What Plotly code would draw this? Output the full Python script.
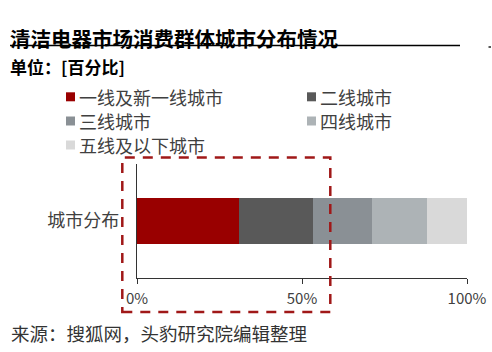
import plotly.graph_objects as go

# ---- data ----
categories = ["城市分布"]
series_names = ["一线及新一线城市", "二线城市", "三线城市", "四线城市", "五线及以下城市"]
series_values = [31.0, 22.4, 17.9, 16.7, 12.0]
series_colors = ["#990000", "#595959", "#8A9095", "#ADB3B6", "#D9D9D9"]
tick_values = [0, 50, 100]
tick_labels = ["0%", "50%", "100%"]
title_text = "清洁电器市场消费群体城市分布情况"
unit_text = "单位：[百分比]"
source_text = "来源：搜狐网，头豹研究院编辑整理"

W, H = 492, 352
L, R, T, B = 137, 25, 164, 74
PW, PH = W - L - R, H - T - B
FONT = "Noto Sans CJK SC"


def px(xp):
    return (xp - L) / PW


def py(yp):
    return (H - B - yp) / PH


fig = go.Figure()
for name, val, col in zip(series_names, series_values, series_colors):
    fig.add_trace(go.Bar(
        orientation="h", y=categories, x=[val], name=name,
        marker=dict(color=col, line=dict(width=0)), width=0.41,
        showlegend=False,
    ))

shapes = []
annotations = []

# title + underline
annotations.append(dict(text=f"<b>{title_text}</b>", x=px(8), y=py(38), xref="paper", yref="paper",
                        xanchor="left", yanchor="middle", showarrow=False,
                        font=dict(family=FONT, size=20.5, color="#000000")))
shapes.append(dict(type="line", xref="paper", yref="paper", x0=px(10), x1=px(460), y0=py(45.5), y1=py(45.5),
                   line=dict(color="#000000", width=1.3)))
shapes.append(dict(type="line", xref="paper", yref="paper", x0=px(488.5), x1=px(491), y0=py(47), y1=py(47),
                   line=dict(color="#000000", width=1.3)))
annotations.append(dict(text=f"<b>{unit_text}</b>", x=px(8), y=py(66.5), xref="paper", yref="paper",
                        xanchor="left", yanchor="middle", showarrow=False,
                        font=dict(family=FONT, size=17, color="#000000")))

# legend (built from the series lists)
col_x = [66, 307]
row_y = [96.8, 121, 145]
for i, (name, col) in enumerate(zip(series_names, series_colors)):
    cx = col_x[i % 2]
    cy = row_y[i // 2]
    shapes.append(dict(type="rect", xref="paper", yref="paper", x0=px(cx), x1=px(cx + 9),
                       y0=py(cy - 4.5), y1=py(cy + 4.5), fillcolor=col, line=dict(width=0)))
    annotations.append(dict(text=name, x=px(cx + 11), y=py(cy), xref="paper", yref="paper",
                            xanchor="left", yanchor="middle", showarrow=False,
                            font=dict(family=FONT, size=18, color="#404040")))

# source
annotations.append(dict(text=source_text, x=px(9), y=py(333), xref="paper", yref="paper",
                        xanchor="left", yanchor="middle", showarrow=False,
                        font=dict(family=FONT, size=18.5, color="#333333")))

# dashed highlight box
shapes.append(dict(type="rect", xref="paper", yref="paper", x0=px(122.3), x1=px(330.3),
                   y0=py(312), y1=py(157.5), line=dict(color="#A01818", width=2.5, dash="10px,8px"),
                   fillcolor="rgba(0,0,0,0)", layer="above"))

fig.update_layout(
    width=W, height=H, margin=dict(l=L, r=R, t=T, b=B, pad=0, autoexpand=False),
    barmode="stack", bargap=0,
    paper_bgcolor="white", plot_bgcolor="white",
    font=dict(family=FONT, color="#404040"),
    shapes=shapes, annotations=annotations,
    xaxis=dict(range=[0, 100], tickvals=tick_values, ticktext=tick_labels,
               showline=True, linecolor="#333333", linewidth=1.2, automargin=False,
               ticks="outside", ticklen=5, tickcolor="#333333", tickwidth=1,
               ticklabelstandoff=2,
               showgrid=False, zeroline=False, fixedrange=True,
               tickfont=dict(family=FONT, size=15, color="#404040")),
    yaxis=dict(showline=True, linecolor="#333333", linewidth=1.2, ticks="", automargin=False,
               showgrid=False, zeroline=False, range=[-0.5, 0.5], fixedrange=True,
               ticklabelstandoff=13,
               tickfont=dict(family=FONT, size=18, color="#404040")),
)

fig.write_html("out.html")
